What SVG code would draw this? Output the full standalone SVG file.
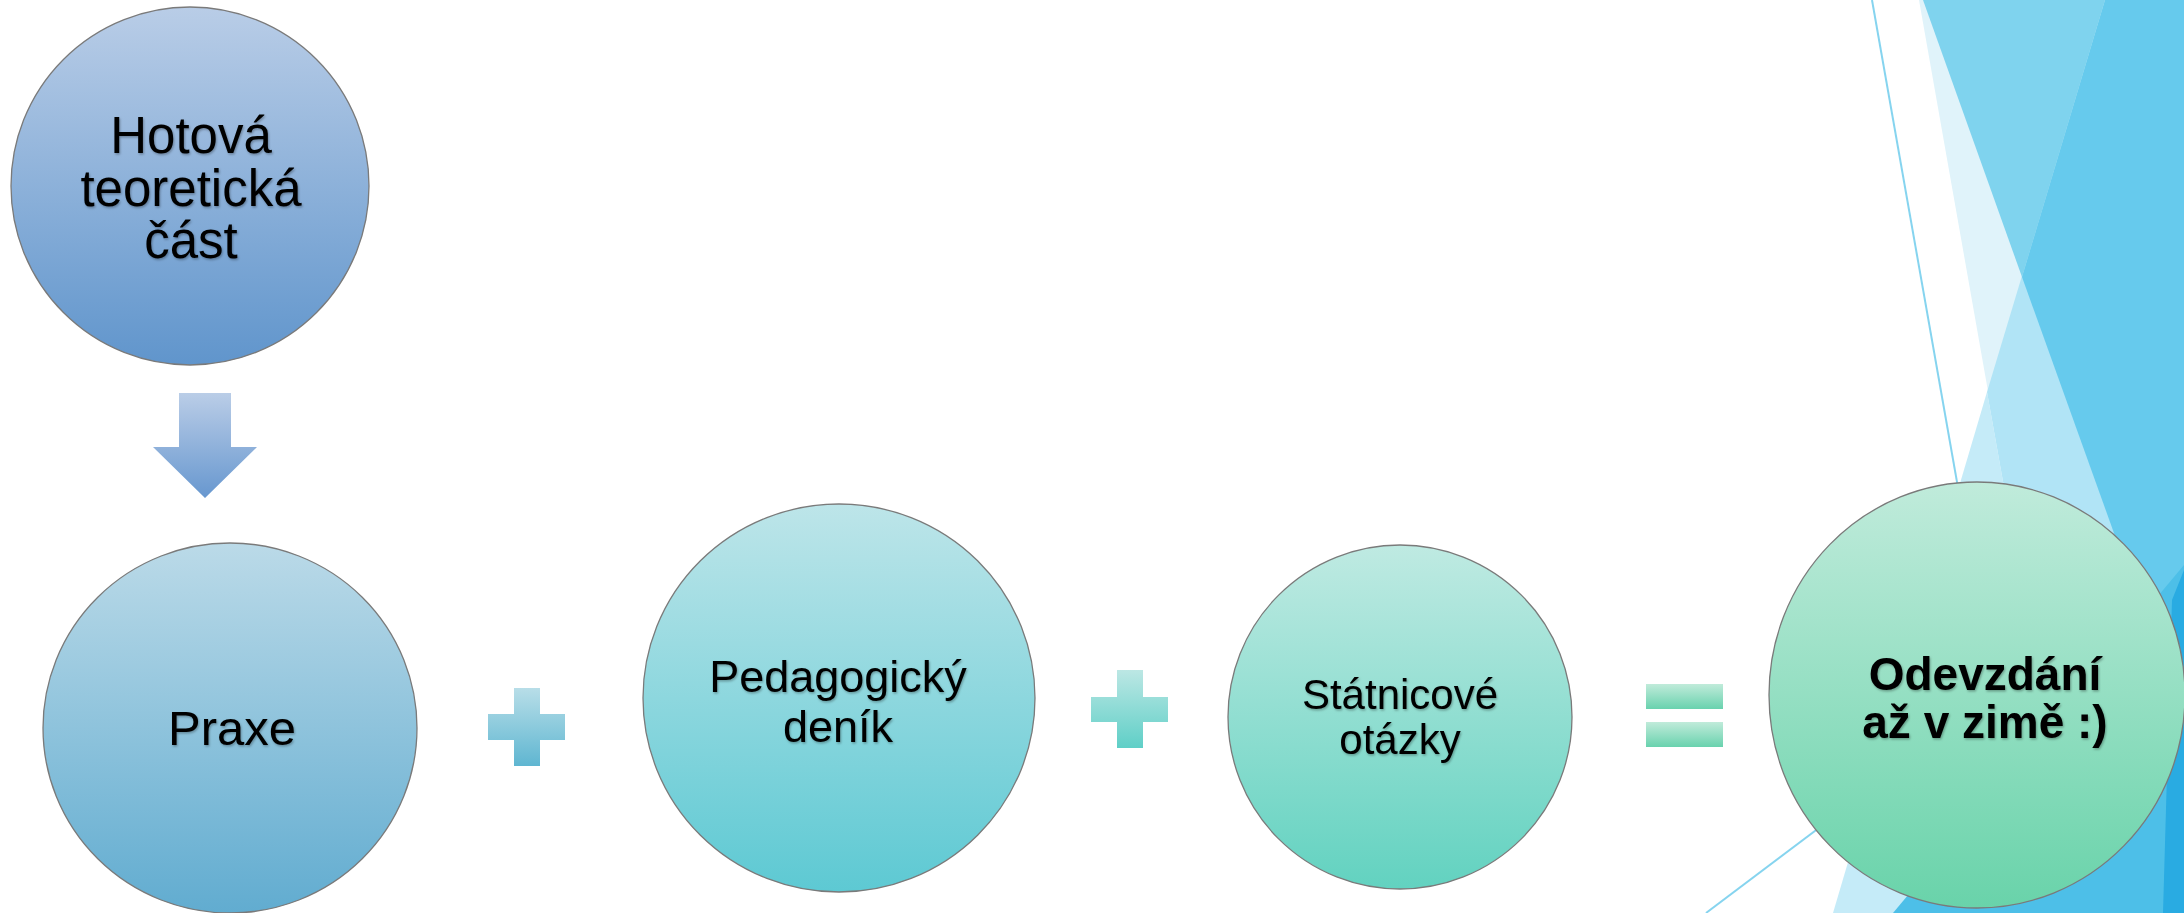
<svg xmlns="http://www.w3.org/2000/svg" width="2184" height="913" viewBox="0 0 2184 913">
  <defs>
    <linearGradient id="g1" x1="0" y1="0" x2="0" y2="1"><stop offset="0" stop-color="#B9CDE7"/><stop offset="1" stop-color="#6095CC"/></linearGradient>
    <linearGradient id="gA" x1="0" y1="0" x2="0" y2="1"><stop offset="0" stop-color="#BACDE7"/><stop offset="1" stop-color="#6797CF"/></linearGradient>
    <linearGradient id="g2" x1="0" y1="0" x2="0" y2="1"><stop offset="0" stop-color="#BBDAE8"/><stop offset="1" stop-color="#61ACD0"/></linearGradient>
    <linearGradient id="gP1" x1="0" y1="0" x2="0" y2="1"><stop offset="0" stop-color="#B8DEE8"/><stop offset="1" stop-color="#5FB6D1"/></linearGradient>
    <linearGradient id="g3" x1="0" y1="0" x2="0" y2="1"><stop offset="0" stop-color="#BDE5E9"/><stop offset="1" stop-color="#5DC9D3"/></linearGradient>
    <linearGradient id="gP2" x1="0" y1="0" x2="0" y2="1"><stop offset="0" stop-color="#BCE7E4"/><stop offset="1" stop-color="#5FCFC7"/></linearGradient>
    <linearGradient id="g4" x1="0" y1="0" x2="0" y2="1"><stop offset="0" stop-color="#BFEAE2"/><stop offset="1" stop-color="#62D2C0"/></linearGradient>
    <linearGradient id="gE" x1="0" y1="0" x2="0" y2="1"><stop offset="0" stop-color="#C0EBDA"/><stop offset="1" stop-color="#69D2AE"/></linearGradient>
    <linearGradient id="g5" x1="0" y1="0" x2="0" y2="1"><stop offset="0" stop-color="#C0EBDB"/><stop offset="1" stop-color="#69D3AA"/></linearGradient>
    <filter id="ts" x="-10%" y="-10%" width="120%" height="130%">
      <feDropShadow dx="1" dy="1.5" stdDeviation="1.2" flood-color="#000" flood-opacity="0.3"/>
    </filter>
  </defs>
  <style>
    .node { stroke: #7a7a7a; stroke-width: 1.3; }
    .lbl { font-family: "Liberation Sans", Arial, sans-serif; fill: #000; text-anchor: middle; filter: url(#ts); }
    .bold { font-weight: bold; }
    .deco-line { stroke: #86D4EF; stroke-width: 2; fill: none; }
  </style>

  <rect width="2184" height="913" fill="#FFFFFF"/>

  <!-- background facets -->
  <g id="background">
    <polygon points="1919,0 2184,0 2184,913 2080,913" fill="#E0F3FA"/>
    <polygon points="1987,392 2080,913 1833,913" fill="#C5EBF8"/>
    <polygon points="2105,0 2184,0 2184,913 2080,913 1987,392" fill="#B1E4F6"/>
    <polygon points="1923,0 2105,0 2022,277" fill="#7FD3EE"/>
    <polygon points="2105,0 2184,0 2184,728 2022,277" fill="#66CAED"/>
    <line class="deco-line" x1="1872" y1="0" x2="2033" y2="913"/>
    <line class="deco-line" x1="1706" y1="913" x2="1900" y2="767"/>
    <polygon points="2184,565 1893,913 2184,913" fill="#4DBFE8"/>
    <polygon points="2184,570 2172,600 2163,913 2184,913" fill="#29ABE2"/>
  </g>

  <!-- connectors / operators -->
  <g id="connectors">
    <polygon points="179,393 231,393 231,447 257,447 205,498 153,447 179,447" fill="url(#gA)"/>
    <path d="M514,688 H540 V714 H565 V740 H540 V766 H514 V740 H488 V714 H514 Z" fill="url(#gP1)"/>
    <path d="M1117,670 H1143 V697 H1168 V722 H1143 V748 H1117 V722 H1091 V697 H1117 Z" fill="url(#gP2)"/>
    <rect x="1646" y="684" width="77" height="25" fill="url(#gE)"/>
    <rect x="1646" y="722" width="77" height="25" fill="url(#gE)"/>
  </g>

  <g id="node-hotova">
    <ellipse class="node" cx="190" cy="186" rx="179" ry="179" fill="url(#g1)"/>
    <text class="lbl" font-size="51" x="191"><tspan x="191" y="153">Hotová</tspan><tspan x="191" y="206">teoretická</tspan><tspan x="191" y="258">část</tspan></text>
  </g>

  <g id="node-praxe">
    <ellipse class="node" cx="230" cy="728" rx="187" ry="185" fill="url(#g2)"/>
    <text class="lbl" font-size="49" x="232" y="745">Praxe</text>
  </g>

  <g id="node-denik">
    <ellipse class="node" cx="839" cy="698" rx="196" ry="194" fill="url(#g3)"/>
    <text class="lbl" font-size="45" x="838"><tspan x="838" y="692">Pedagogický</tspan><tspan x="838" y="742">deník</tspan></text>
  </g>

  <g id="node-otazky">
    <ellipse class="node" cx="1400" cy="717" rx="172" ry="172" fill="url(#g4)"/>
    <text class="lbl" font-size="42" x="1400"><tspan x="1400" y="709">Státnicové</tspan><tspan x="1400" y="754">otázky</tspan></text>
  </g>

  <g id="node-odevzdani">
    <ellipse class="node" cx="1977" cy="695" rx="208" ry="213" fill="url(#g5)"/>
    <text class="lbl bold" font-size="46" x="1985"><tspan x="1985" y="690">Odevzdání</tspan><tspan x="1985" y="738">až v zimě :)</tspan></text>
  </g>
</svg>
